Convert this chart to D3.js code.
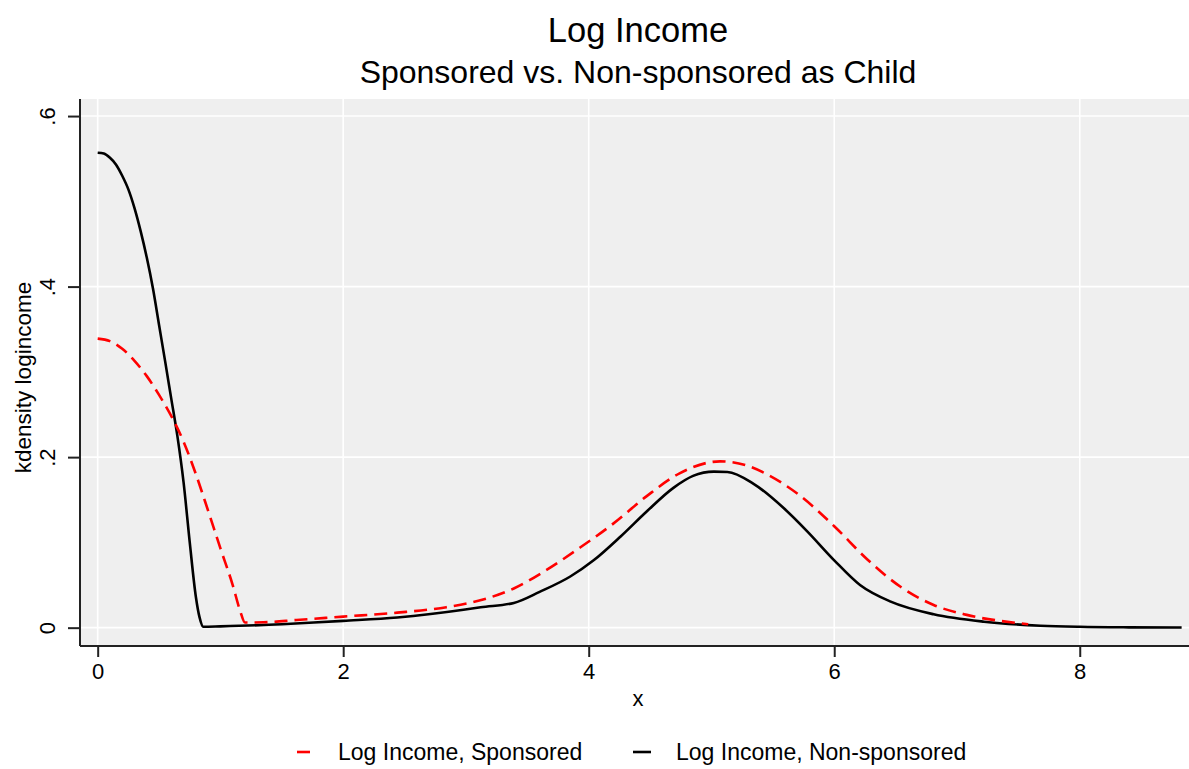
<!DOCTYPE html>
<html>
<head>
<meta charset="utf-8">
<script src="https://cdn.jsdelivr.net/npm/d3@7"></script>
<style>
  html, body { margin: 0; padding: 0; background: #fff; }
  svg { display: block; font-family: "Liberation Sans", Arial, sans-serif; }
</style>
</head>
<body>
<svg id="chart" width="1189" height="769"></svg>
<script>
// Kernel density of log income, sponsored vs. non-sponsored as child
const sponsoredX = [0, 0.1, 0.2, 0.3, 0.4, 0.5, 0.6, 0.7, 0.8, 0.9, 1.0, 1.1, 1.16, 1.2, 1.35, 1.62, 2.0, 2.44, 2.84, 3.14, 3.39, 3.66, 3.93, 4.2, 4.47, 4.74, 5.07, 5.29, 5.45, 5.72, 6.0, 6.27, 6.54, 6.81, 7.08, 7.52, 7.58];
const sponsoredY = [0.339, 0.336, 0.327, 0.313, 0.295, 0.273, 0.248, 0.218, 0.18, 0.137, 0.093, 0.05, 0.02, 0.006, 0.0063, 0.009, 0.013, 0.0176, 0.024, 0.033, 0.046, 0.068, 0.094, 0.122, 0.154, 0.181, 0.195, 0.19, 0.18, 0.155, 0.119, 0.08, 0.048, 0.0266, 0.015, 0.005, 0.004];

const nonSponsoredX = [0, 0.05, 0.1, 0.15, 0.2, 0.25, 0.3, 0.35, 0.4, 0.45, 0.5, 0.55, 0.6, 0.65, 0.7, 0.75, 0.8, 0.83, 0.86, 1.0, 1.5, 1.76, 2.0, 2.44, 2.98, 3.12, 3.39, 3.6, 3.85, 4.04, 4.26, 4.47, 4.69, 4.85, 5.02, 5.13, 5.34, 5.59, 5.78, 6.0, 6.21, 6.46, 6.81, 7.22, 7.68, 8.0, 8.4, 8.83];
const nonSponsoredY = [0.557, 0.556, 0.551, 0.543, 0.53, 0.514, 0.492, 0.465, 0.434, 0.398, 0.355, 0.312, 0.268, 0.224, 0.17, 0.1, 0.036, 0.012, 0.001, 0.0015, 0.004, 0.006, 0.008, 0.012, 0.021, 0.024, 0.029, 0.042, 0.06, 0.079, 0.107, 0.136, 0.164, 0.178, 0.183, 0.1826, 0.169, 0.14, 0.113, 0.079, 0.05, 0.0305, 0.0157, 0.007, 0.0023, 0.001, 0.0004, 0.0002];

const xTicks = [0, 2, 4, 6, 8];
const yTicks = [0, 0.2, 0.4, 0.6];
const yTickLabels = ["0", ".2", ".4", ".6"];
const seriesNames = ["Log Income, Sponsored", "Log Income, Non-sponsored"];

const titleText = "Log Income";
const subtitleText = "Sponsored vs. Non-sponsored as Child";
const xTitle = "x";
const yTitle = "kdensity logincome";

const svg = d3.select("#chart");
const plot = { left: 80, right: 1189, top: 99, bottom: 646 };

const x = d3.scaleLinear().domain([-0.144, 8.89]).range([plot.left, plot.right]);
const y = d3.scaleLinear().domain([-0.0215, 0.62]).range([plot.bottom, plot.top]);

// plot region background
svg.append("rect")
  .attr("x", plot.left).attr("y", plot.top)
  .attr("width", plot.right - plot.left).attr("height", plot.bottom - plot.top)
  .attr("fill", "#efefef");

// grid lines
svg.append("g").selectAll("line").data(yTicks).join("line")
  .attr("x1", plot.left).attr("x2", plot.right)
  .attr("y1", d => y(d)).attr("y2", d => y(d))
  .attr("stroke", "#fff").attr("stroke-width", 1.6);
svg.append("g").selectAll("line").data(xTicks).join("line")
  .attr("y1", plot.top).attr("y2", plot.bottom)
  .attr("x1", d => x(d)).attr("x2", d => x(d))
  .attr("stroke", "#fff").attr("stroke-width", 1.6);

// axes
const xAxis = svg.append("g")
  .attr("transform", `translate(0,${plot.bottom})`)
  .call(d3.axisBottom(x).tickValues(xTicks).tickSize(11).tickSizeOuter(0).tickPadding(6).tickFormat(d3.format("d")));
const yAxis = svg.append("g")
  .attr("transform", `translate(${plot.left},0)`)
  .call(d3.axisLeft(y).tickValues(yTicks).tickSize(12).tickSizeOuter(0).tickFormat((d, i) => yTickLabels[i]));

[xAxis, yAxis].forEach(a => {
  a.select(".domain").attr("stroke", "#222").attr("stroke-width", 2);
  a.selectAll(".tick line").attr("stroke", "#222").attr("stroke-width", 2);
  a.selectAll(".tick text").attr("fill", "#000").attr("font-size", 22)
    .attr("font-family", "'Liberation Sans', Arial, sans-serif");
});
yAxis.selectAll(".tick text")
  .attr("x", null).attr("dy", null)
  .attr("text-anchor", "middle")
  .attr("transform", "translate(-25,0) rotate(-90)");
// keep the axis lines inside the plot box
yAxis.select(".domain").attr("d", `M0,${plot.bottom}V${plot.top}`);
xAxis.select(".domain").attr("d", `M${plot.left},0H${plot.right}`);

// density curves
const line = d3.line().x(d => x(d[0])).y(d => y(d[1])).curve(d3.curveMonotoneX);
const sponsored = sponsoredX.map((v, i) => [v, sponsoredY[i]]);
const nonSponsored = nonSponsoredX.map((v, i) => [v, nonSponsoredY[i]]);

svg.append("path").datum(nonSponsored)
  .attr("d", line).attr("fill", "none")
  .attr("stroke", "#000").attr("stroke-width", 2.6).attr("stroke-linejoin", "round");
svg.append("path").datum(sponsored)
  .attr("d", line).attr("fill", "none")
  .attr("stroke", "#ff0000").attr("stroke-width", 2.6)
  .attr("stroke-dasharray", "13,7");

// titles
const midX = 638;
svg.append("text").attr("x", midX).attr("y", 42).attr("text-anchor", "middle")
  .attr("font-size", 34.5).text(titleText);
svg.append("text").attr("x", midX).attr("y", 83).attr("text-anchor", "middle")
  .attr("font-size", 32).text(subtitleText);
svg.append("text").attr("x", midX).attr("y", 706).attr("text-anchor", "middle")
  .attr("font-size", 22).text(xTitle);
svg.append("text").attr("transform", `translate(31,${(plot.top + plot.bottom) / 2 + 5}) rotate(-90)`)
  .attr("text-anchor", "middle").attr("font-size", 22.5).text(yTitle);

// legend
const legend = svg.append("g");
const keys = [
  { name: seriesNames[0], color: "#ff0000", x1: 297, x2: 310, tx: 338 },
  { name: seriesNames[1], color: "#000", x1: 633, x2: 651, tx: 676 }
];
keys.forEach(k => {
  legend.append("line").attr("x1", k.x1).attr("x2", k.x2).attr("y1", 752).attr("y2", 752)
    .attr("stroke", k.color).attr("stroke-width", 2.6);
  legend.append("text").attr("x", k.tx).attr("y", 760).attr("font-size", 23).text(k.name);
});
</script>
</body>
</html>
